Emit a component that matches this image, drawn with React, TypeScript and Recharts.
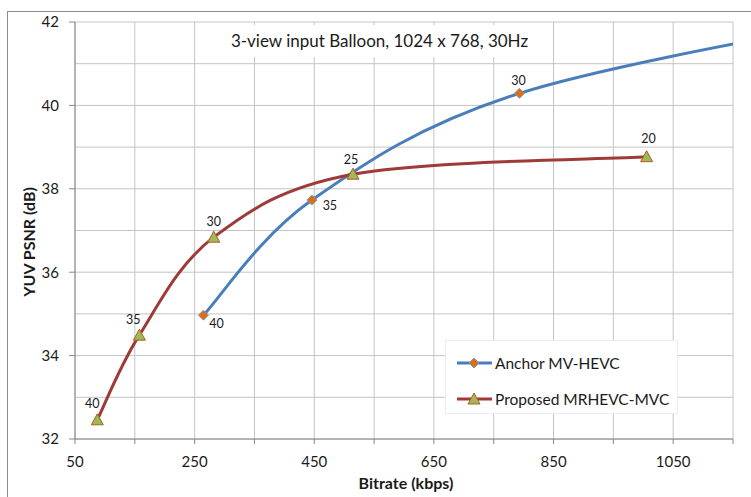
import React from 'react';
import { LineChart, Line, XAxis, YAxis, CartesianGrid, Legend } from 'recharts';

// ---- data ----
const anchorBitrate = [264.7, 446, 793, 1450];
const anchorPsnr = [34.97, 37.73, 40.29, 42.3];
const anchorQP = [40, 35, 30, 25];

const proposedBitrate = [87.3, 157.6, 282, 514.7, 1005.6];
const proposedPsnr = [32.46, 34.49, 36.84, 38.35, 38.77];
const proposedQP = [40, 35, 30, 25, 20];

const xTicks = [50, 150, 250, 350, 450, 550, 650, 750, 850, 950, 1050, 1150];
const yTicks = [32, 34, 36, 38, 40, 42];
const yGrid = [32, 33, 34, 35, 36, 37, 38, 39, 40, 41, 42];

const X_MIN = 50;
const X_MAX = 1150;

const anchorData = anchorBitrate.map((b, i) => ({ bitrate: b, psnr: anchorPsnr[i], qp: anchorQP[i] }));
const proposedData = proposedBitrate.map((b, i) => ({ bitrate: b, psnr: proposedPsnr[i], qp: proposedQP[i] }));

// label placement (style only)
const anchorLabelOffsets = [
  { dx: 13, dy: 8 },
  { dx: 18, dy: 5 },
  { dx: -1, dy: -13 },
  { dx: 0, dy: -13 },
];
const proposedLabelOffsets = [
  { dx: -5, dy: -16 },
  { dx: -6, dy: -16 },
  { dx: 0, dy: -16 },
  { dx: -2, dy: -15 },
  { dx: 2, dy: -18 },
];

const BLUE = '#4a7ebb';
const RED = '#9e3b38';
const FONT = 'Lato, "Open Sans", sans-serif';

// Excel-like smooth curve (Catmull-Rom style Bezier)
const excelSmooth = (context: any) => {
  let pts: number[][] = [];
  return {
    areaStart() {},
    areaEnd() {},
    lineStart() {
      pts = [];
    },
    point(x: number, y: number) {
      pts.push([+x, +y]);
    },
    lineEnd() {
      const n = pts.length;
      if (!n) return;
      context.moveTo(pts[0][0], pts[0][1]);
      for (let i = 0; i < n - 1; i++) {
        const p0 = pts[Math.max(i - 1, 0)];
        const p1 = pts[i];
        const p2 = pts[i + 1];
        const p3 = pts[Math.min(i + 2, n - 1)];
        context.bezierCurveTo(
          p1[0] + (p2[0] - p0[0]) / 6,
          p1[1] + (p2[1] - p0[1]) / 6,
          p2[0] - (p3[0] - p1[0]) / 6,
          p2[1] - (p3[1] - p1[1]) / 6,
          p2[0],
          p2[1]
        );
      }
    },
  };
};

const Diamond = (props: any) => {
  const { cx, cy, payload } = props;
  if (cx == null || cy == null || payload.bitrate > X_MAX) return <g key={`d-${props.index}`} />;
  const r = 5;
  return (
    <path
      key={`d-${props.index}`}
      d={`M${cx},${cy - r}L${cx + r},${cy}L${cx},${cy + r}L${cx - r},${cy}Z`}
      fill="#e46c0a"
      stroke="#6f9bd3"
      strokeWidth={1}
    />
  );
};

const Triangle = (props: any) => {
  const { cx, cy } = props;
  if (cx == null || cy == null) return <g key={`t-${props.index}`} />;
  return (
    <path
      key={`t-${props.index}`}
      d={`M${cx},${cy - 6}L${cx + 6},${cy + 5}L${cx - 6},${cy + 5}Z`}
      fill="#9bbb59"
      stroke="#b65a1c"
      strokeWidth={1}
    />
  );
};

const makeLabel = (data: any[], offsets: { dx: number; dy: number }[]) => (props: any) => {
  const { x, y, index } = props;
  const d = data[index];
  if (!d || d.bitrate > X_MAX || x == null) return <g key={`l-${index}`} />;
  const o = offsets[index] || { dx: 0, dy: -14 };
  return (
    <text
      key={`l-${index}`}
      x={x + o.dx}
      y={y + o.dy}
      textAnchor="middle"
      dominantBaseline="central"
      fontSize={12.5}
      fontFamily={FONT}
      fill="#1a1a1a"
    >
      {d.qp}
    </text>
  );
};

const legendItems = [
  { name: 'Anchor MV-HEVC', color: BLUE, marker: 'diamond' },
  { name: 'Proposed MRHEVC-MVC', color: RED, marker: 'triangle' },
];

const LegendContent = () => (
  <div
    style={{
      width: 233,
      height: 74,
      boxSizing: 'border-box',
      background: '#fff',
      border: '1px solid #ececec',
      fontFamily: FONT,
      fontSize: 15.5,
      color: '#1a1a1a',
      paddingTop: 8,
    }}
  >
    {legendItems.map((it) => (
      <div key={it.name} style={{ display: 'flex', alignItems: 'center', height: 28, marginBottom: 8, paddingLeft: 10 }}>
        <svg width={37} height={16} style={{ marginRight: 2 }}>
          <line x1={1} y1={8} x2={36} y2={8} stroke={it.color} strokeWidth={3} />
          {it.marker === 'diamond' ? (
            <path d="M18,3L23,8L18,13L13,8Z" fill="#e46c0a" stroke="#6f9bd3" strokeWidth={1} />
          ) : (
            <path d="M18,2L24,13L12,13Z" fill="#9bbb59" stroke="#b65a1c" strokeWidth={1} />
          )}
        </svg>
        <span>{it.name}</span>
      </div>
    ))}
  </div>
);

export default function App() {
  return (
    <div
      style={{
        position: 'absolute',
        left: 0,
        top: 0,
        width: 751,
        height: 497,
        overflow: 'hidden',
        background: '#fff',
        fontFamily: FONT,
      }}
    >
      <div
        style={{
          position: 'absolute',
          left: 7,
          top: 11,
          width: 800,
          height: 600,
          border: '1px solid #8c8c8c',
        }}
      />
      <div style={{ position: 'absolute', left: 0, top: 0 }}>
        <LineChart width={751} height={497} margin={{ top: 22, right: 18, bottom: 0, left: 0 }}>
          <CartesianGrid
            stroke="#c4c4c4"
            strokeWidth={1}
            verticalValues={xTicks}
            horizontalValues={yGrid}
          />
          <XAxis
            type="number"
            dataKey="bitrate"
            domain={[X_MIN, X_MAX]}
            allowDataOverflow
            ticks={xTicks}
            interval={0}
            tickFormatter={(v: number) => ((v - X_MIN) % 200 === 0 ? String(v) : '')}
            height={58}
            tickSize={5}
            tickMargin={12}
            stroke="#868686"
            tick={{ fill: '#1a1a1a', fontSize: 15, fontFamily: FONT }}
          />
          <YAxis
            type="number"
            domain={[32, 42]}
            allowDataOverflow
            ticks={yTicks}
            interval={0}
            width={75}
            tickSize={6}
            tickMargin={10}
            stroke="#868686"
            tick={{ fill: '#1a1a1a', fontSize: 15, fontFamily: FONT }}
          />
          <Legend
            layout="vertical"
            align="center"
            verticalAlign="middle"
            content={<LegendContent />}
            wrapperStyle={{ left: 445, top: 340, width: 233, height: 74, margin: 0 }}
          />
          <Line
            data={anchorData}
            dataKey="psnr"
            name="Anchor MV-HEVC"
            type={excelSmooth as any}
            stroke={BLUE}
            strokeWidth={3}
            dot={Diamond}
            activeDot={false}
            label={makeLabel(anchorData, anchorLabelOffsets)}
            isAnimationActive={false}
          />
          <Line
            data={proposedData}
            dataKey="psnr"
            name="Proposed MRHEVC-MVC"
            type={excelSmooth as any}
            stroke={RED}
            strokeWidth={3}
            dot={Triangle}
            activeDot={false}
            label={makeLabel(proposedData, proposedLabelOffsets)}
            isAnimationActive={false}
          />
        </LineChart>
      </div>
      <div
        style={{
          position: 'absolute',
          left: 220,
          top: 25,
          width: 319,
          height: 32,
          background: '#fff',
          textAlign: 'center',
          lineHeight: '32px',
          fontSize: 17,
          color: '#1a1a1a',
        }}
      >
        3-view input Balloon, 1024 x 768, 30Hz
      </div>
      <svg width={751} height={497} style={{ position: 'absolute', left: 0, top: 0, pointerEvents: 'none' }}>
        <text
          x={406}
          y={482}
          textAnchor="middle"
          dominantBaseline="central"
          fontWeight="bold"
          fontSize={16}
          fontFamily={FONT}
          fill="#1a1a1a"
        >
          Bitrate (kbps)
        </text>
        <text
          transform="translate(28,242) rotate(-90)"
          textAnchor="middle"
          dominantBaseline="central"
          fontWeight="bold"
          fontSize={16}
          fontFamily={FONT}
          fill="#1a1a1a"
        >
          YUV PSNR (dB)
        </text>
      </svg>
    </div>
  );
}
